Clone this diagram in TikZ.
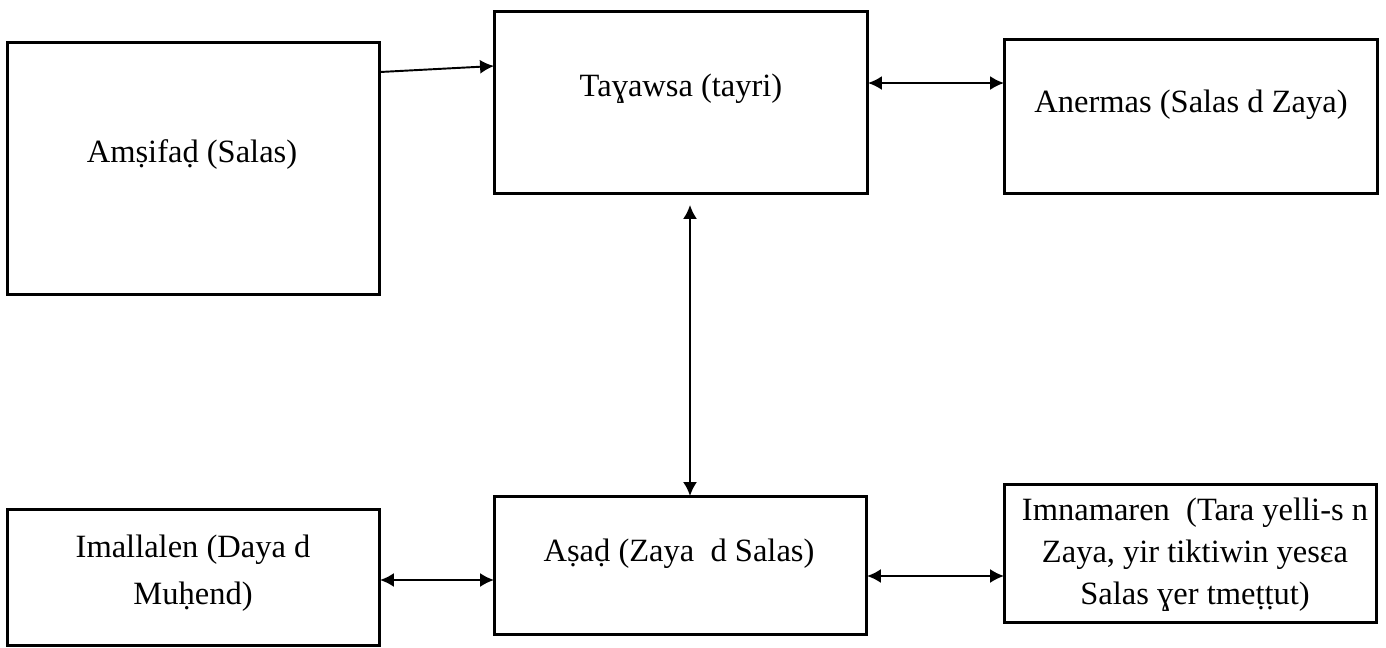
\documentclass[tikz,border=0pt]{standalone}
\usepackage{fontspec}
\setmainfont{Liberation Serif}
\usepackage{tikz}
\usetikzlibrary{calc}
\usetikzlibrary{arrows.meta}

\begin{document}
\begin{tikzpicture}[x=0.02cm,y=-0.02cm,
	box/.style={draw,line width=1.7pt,inner sep=0pt,outer sep=0pt},
	lbl/.style={font=\rmfamily\fontsize{18.5}{21.5}\selectfont,align=center,inner sep=0pt},
	link/.style={line width=1.1pt,>={Latex[length=0.28cm,width=0.28cm]}}]
	\useasboundingbox (0,0) rectangle (1386,648);

	% boxes
	\node [box,minimum width=7.46cm,minimum height=5.06cm] (amsifad) at (193.5,168.5) {};
	\node [box,minimum width=7.48cm,minimum height=3.66cm] (tayawsa) at (681,102.5) {};
	\node [box,minimum width=7.48cm,minimum height=3.10cm] (anermas) at (1191,116.5) {};
	\node [box,minimum width=7.46cm,minimum height=2.74cm] (imallalen) at (193.5,577.5) {};
	\node [box,minimum width=7.46cm,minimum height=2.78cm] (asad) at (680.5,565.5) {};
	\node [box,minimum width=7.46cm,minimum height=2.78cm] (imnamaren) at (1190.5,553.5) {};

	% texts
	\node [lbl] (amsifad-t) at (192,155) {Amṣifaḍ (Salas)};
	\node [lbl] (tayawsa-t) at (681,89) {Taɣawsa (tayri)};
	\node [lbl] (anermas-t) at (1191,105) {Anermas (Salas d Zaya)};
	\node [lbl,font=\rmfamily\fontsize{18.5}{27}\selectfont] (imallalen-t) at (193,573) {Imallalen (Daya d\\Muḥend)};
	\node [lbl] (asad-t) at (679,554) {Aṣaḍ (Zaya\ \ d Salas)};
	\node [lbl,font=\rmfamily\fontsize{18.5}{24}\selectfont] (imnamaren-t) at (1195,555) {Imnamaren\ \ (Tara yelli-s n\\Zaya, yir tiktiwin yesɛa\\Salas ɣer tmeṭṭut)};

	% links
	\draw [link,->] ($(amsifad.north east)+(0,30)$) -- ($(tayawsa.north west)+(0,55)$);
	\draw [link,<->] ($(tayawsa.north east)+(0,72)$) -- (anermas.west |- {$(tayawsa.north east)+(0,72)$});
	\draw [link,<->] ($(tayawsa.south)+(9,11)$) -- (asad.north -| {$(tayawsa.south)+(9,11)$});
	\draw [link,<->] ($(imallalen.east)+(0,2.5)$) -- (asad.west |- {$(imallalen.east)+(0,2.5)$});
	\draw [link,<->] ($(asad.east)+(0,10.5)$) -- (imnamaren.west |- {$(asad.east)+(0,10.5)$});
\end{tikzpicture}
\end{document}
